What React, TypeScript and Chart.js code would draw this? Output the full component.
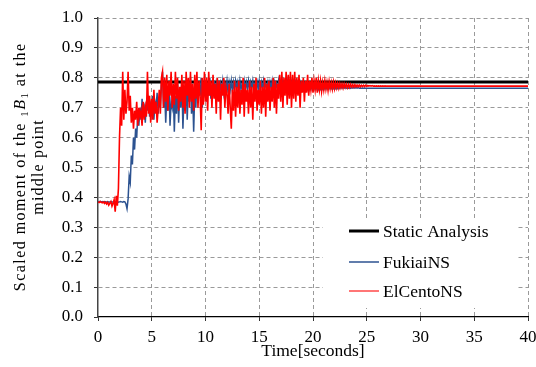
import { useEffect, useRef } from "react";
import { Chart, registerables } from "chart.js";

Chart.register(...registerables);

// ---------- data ----------
const TIME_STEP = 0.1; // seconds between samples
const END_TIME = 40;
const STATIC_VALUE = 0.786;

const X_MIN = 0;
const X_MAX = 40;
const X_STEP = 5;
const Y_MIN = 0;
const Y_MAX = 1;
const Y_STEP = 0.1;

const seriesNames = ["Static Analysis", "FukiaiNS", "ElCentoNS"];

// ElCentoNS, sampled every 0.1 s from t = 0 to 26.8 s
const elCentoNS = [
  0.385, 0.383, 0.386, 0.384, 0.382, 0.385, 0.38, 0.384, 0.378, 0.383,
  0.374, 0.38, 0.386, 0.371, 0.38, 0.392, 0.352, 0.405, 0.372, 0.43,
  0.6, 0.7, 0.64, 0.82, 0.66, 0.76, 0.68, 0.72, 0.82, 0.69,
  0.74, 0.65, 0.7, 0.63, 0.69, 0.66, 0.72, 0.64, 0.7, 0.67,
  0.69, 0.64, 0.72, 0.66, 0.7, 0.67, 0.82, 0.68, 0.74, 0.65,
  0.73, 0.66, 0.76, 0.68, 0.72, 0.65, 0.7, 0.76, 0.68, 0.8,
  0.82, 0.7, 0.8, 0.72, 0.81, 0.69, 0.79, 0.74, 0.82, 0.7,
  0.78, 0.71, 0.82, 0.73, 0.8, 0.69, 0.77, 0.72, 0.81, 0.7,
  0.79, 0.68, 0.82, 0.74, 0.8, 0.7, 0.82, 0.72, 0.78, 0.69,
  0.81, 0.73, 0.82, 0.7, 0.79, 0.74, 0.625, 0.8, 0.71, 0.82,
  0.72, 0.8, 0.69, 0.82, 0.74, 0.79, 0.7, 0.81, 0.73, 0.78,
  0.68, 0.8, 0.72, 0.79, 0.66, 0.78, 0.74, 0.8, 0.7, 0.77,
  0.75, 0.68, 0.78, 0.7, 0.63, 0.76, 0.69, 0.79, 0.67, 0.77,
  0.7, 0.79, 0.68, 0.76, 0.71, 0.8, 0.67, 0.78, 0.72, 0.76,
  0.68, 0.79, 0.7, 0.77, 0.66, 0.78, 0.72, 0.8, 0.69, 0.76,
  0.71, 0.79, 0.68, 0.77, 0.7, 0.8, 0.67, 0.78, 0.72, 0.79,
  0.69, 0.77, 0.72, 0.8, 0.7, 0.79, 0.68, 0.78, 0.73, 0.81,
  0.72, 0.82, 0.7, 0.8, 0.74, 0.82, 0.71, 0.81, 0.73, 0.82,
  0.7, 0.81, 0.73, 0.82, 0.72, 0.8, 0.74, 0.81, 0.7, 0.79,
  0.75, 0.8, 0.72, 0.79, 0.75, 0.81, 0.74, 0.79, 0.76, 0.8,
  0.75, 0.79, 0.76, 0.8, 0.75, 0.79, 0.76, 0.79, 0.755, 0.785,
  0.76, 0.79, 0.762, 0.785, 0.758, 0.788, 0.764, 0.784, 0.762, 0.786,
  0.764, 0.783, 0.766, 0.782, 0.765, 0.781, 0.767, 0.78, 0.766, 0.78,
  0.768, 0.779, 0.767, 0.778, 0.768, 0.778, 0.769, 0.777, 0.769, 0.777,
  0.77, 0.776, 0.77, 0.776, 0.77, 0.775, 0.771, 0.775, 0.771, 0.775,
  0.771, 0.774, 0.772, 0.774, 0.772, 0.774, 0.772, 0.773, 0.772, 0.773,
  0.772, 0.773, 0.772, 0.773, 0.772, 0.773, 0.772, 0.773, 0.772,
];
const elCentoTail = 0.772; // value held until END_TIME

// FukiaiNS, sampled every 0.1 s from t = 0 to 24.9 s
const fukiaiNS = [
  0.386, 0.385, 0.387, 0.385, 0.386, 0.384, 0.386, 0.385, 0.385, 0.386,
  0.384, 0.385, 0.386, 0.385, 0.384, 0.386, 0.385, 0.385, 0.386, 0.384,
  0.385, 0.386, 0.385, 0.384, 0.386, 0.385, 0.378, 0.362, 0.395, 0.47,
  0.45, 0.54, 0.51, 0.6, 0.56, 0.63, 0.6, 0.68, 0.64, 0.7,
  0.66, 0.73, 0.68, 0.7, 0.65, 0.72, 0.69, 0.74, 0.67, 0.71,
  0.69, 0.74, 0.66, 0.72, 0.7, 0.75, 0.68, 0.73, 0.7, 0.78,
  0.82, 0.7, 0.76, 0.65, 0.74, 0.69, 0.78, 0.64, 0.72, 0.7,
  0.76, 0.62, 0.74, 0.68, 0.78, 0.65, 0.75, 0.7, 0.79, 0.63,
  0.74, 0.69, 0.78, 0.66, 0.77, 0.72, 0.8, 0.68, 0.76, 0.62,
  0.75, 0.7, 0.79, 0.72, 0.78, 0.74, 0.8, 0.7, 0.77, 0.75,
  0.79, 0.72, 0.78, 0.74, 0.8, 0.73, 0.77, 0.75, 0.79, 0.74,
  0.78, 0.75, 0.79, 0.74, 0.78, 0.76, 0.79, 0.75, 0.78, 0.76,
  0.79, 0.75, 0.785, 0.76, 0.79, 0.755, 0.785, 0.76, 0.79, 0.765,
  0.785, 0.755, 0.79, 0.76, 0.78, 0.765, 0.79, 0.76, 0.785, 0.765,
  0.79, 0.76, 0.785, 0.765, 0.79, 0.76, 0.78, 0.765, 0.785, 0.76,
  0.79, 0.765, 0.785, 0.76, 0.79, 0.765, 0.78, 0.765, 0.785, 0.76,
  0.785, 0.765, 0.79, 0.76, 0.785, 0.765, 0.78, 0.76, 0.79, 0.765,
  0.785, 0.76, 0.79, 0.765, 0.785, 0.76, 0.79, 0.765, 0.78, 0.76,
  0.785, 0.762, 0.782, 0.76, 0.784, 0.763, 0.78, 0.761, 0.782, 0.762,
  0.78, 0.762, 0.779, 0.761, 0.778, 0.763, 0.777, 0.762, 0.776, 0.763,
  0.776, 0.762, 0.775, 0.763, 0.774, 0.762, 0.774, 0.763, 0.773, 0.763,
  0.773, 0.763, 0.772, 0.763, 0.772, 0.764, 0.771, 0.764, 0.771, 0.764,
  0.77, 0.764, 0.77, 0.764, 0.769, 0.764, 0.769, 0.765, 0.769, 0.765,
  0.768, 0.765, 0.768, 0.765, 0.768, 0.765, 0.767, 0.765, 0.767, 0.765,
  0.767, 0.765, 0.767, 0.765, 0.766, 0.765, 0.766, 0.765, 0.766, 0.765,
];
const fukiaiTail = 0.765;

// ---------- styling ----------
const FONT = "'Liberation Serif', 'Times New Roman', serif";
const COLOR_STATIC = "#000000";
const COLOR_FUKIAI = "#2c5290";
const COLOR_ELCENTO = "#ff0000";
const GRID_COLOR = "#9a9a9a";

function toPoints(values: number[], tail: number) {
  const pts = values.map((v, i) => ({ x: Math.round(i * TIME_STEP * 10) / 10, y: v }));
  pts.push({ x: END_TIME, y: tail });
  return pts;
}

type Run = { text: string; size: number; italic?: boolean; dy?: number };

function drawRotatedRuns(
  ctx: CanvasRenderingContext2D,
  runs: Run[],
  baselineX: number,
  cy: number,
  spacing: number
) {
  const fontOf = (r: Run) => `${r.italic ? "italic " : ""}${r.size}px ${FONT}`;
  let total = 0;
  const chars: { ch: string; run: Run; w: number }[] = [];
  for (const r of runs) {
    ctx.font = fontOf(r);
    for (const ch of r.text) {
      const w = ctx.measureText(ch).width + spacing;
      chars.push({ ch, run: r, w });
      total += w;
    }
  }
  total -= spacing;
  ctx.save();
  ctx.translate(baselineX, cy);
  ctx.rotate(-Math.PI / 2);
  ctx.textBaseline = "alphabetic";
  ctx.textAlign = "left";
  let x = -total / 2;
  for (const c of chars) {
    ctx.font = fontOf(c.run);
    ctx.fillText(c.ch, x, c.run.dy || 0);
    x += c.w;
  }
  ctx.restore();
}

const yTitlePlugin = {
  id: "yTitleRich",
  afterDraw(chart: any) {
    const ctx: CanvasRenderingContext2D = chart.ctx;
    const { top, bottom } = chart.chartArea;
    const cy = (top + bottom) / 2;
    ctx.save();
    ctx.fillStyle = "#000";
    drawRotatedRuns(
      ctx,
      [
        { text: "Scaled moment of the ", size: 16 },
        { text: "1", size: 11, dy: 3 },
        { text: "B", size: 16, italic: true },
        { text: "1", size: 11, dy: 3 },
        { text: " at the", size: 16 },
      ],
      24.5,
      cy,
      1.45
    );
    drawRotatedRuns(ctx, [{ text: "middle point", size: 16 }], 42.5, cy, 1.2);
    ctx.restore();
  },
};

const legendPlugin = {
  id: "insideLegend",
  afterDraw(chart: any) {
    const ctx: CanvasRenderingContext2D = chart.ctx;
    const area = chart.chartArea;
    const left = area.right - 205;
    const right = area.right - 11;
    const top = area.top + 200;
    const bottom = area.bottom - 9;
    ctx.save();
    ctx.fillStyle = "#ffffff";
    ctx.fillRect(left, top, right - left, bottom - top);
    const items = [
      { label: seriesNames[0], color: COLOR_STATIC, width: 3 },
      { label: seriesNames[1], color: COLOR_FUKIAI, width: 1.5 },
      { label: seriesNames[2], color: "#ff4848", width: 1.5 },
    ];
    const rowY = [top + 13, top + 44, top + 73];
    ctx.font = `17.5px ${FONT}`;
    ctx.textBaseline = "middle";
    ctx.textAlign = "left";
    items.forEach((it, i) => {
      const y = rowY[i];
      ctx.strokeStyle = it.color;
      ctx.lineWidth = it.width;
      ctx.beginPath();
      ctx.moveTo(left + 26, y);
      ctx.lineTo(left + 56, y);
      ctx.stroke();
      ctx.fillStyle = "#000";
      ctx.fillText(it.label, left + 60, y + 1);
    });
    ctx.restore();
  },
};

export default function App() {
  const ref = useRef<HTMLCanvasElement | null>(null);

  useEffect(() => {
    document.body.style.margin = "0";
    const canvas = ref.current;
    if (!canvas) return;
    const gridColor = (c: any) => (c.tick && c.tick.value === 0 ? "rgba(0,0,0,0)" : GRID_COLOR);
    const chart = new Chart(canvas, {
      type: "line",
      data: {
        datasets: [
          {
            label: seriesNames[2],
            data: toPoints(elCentoNS, elCentoTail),
            borderColor: COLOR_ELCENTO,
            borderWidth: 1.6,
            pointRadius: 0,
            tension: 0,
          },
          {
            label: seriesNames[1],
            data: toPoints(fukiaiNS, fukiaiTail),
            borderColor: COLOR_FUKIAI,
            borderWidth: 1.5,
            pointRadius: 0,
            tension: 0,
          },
          {
            label: seriesNames[0],
            data: [
              { x: X_MIN, y: STATIC_VALUE },
              { x: END_TIME, y: STATIC_VALUE },
            ],
            borderColor: COLOR_STATIC,
            borderWidth: 3,
            pointRadius: 0,
            tension: 0,
          },
        ],
      },
      options: {
        responsive: false,
        animation: false,
        parsing: false as any,
        layout: { padding: { left: 0, right: 8, top: 18, bottom: 0 } },
        plugins: {
          legend: { display: false },
          tooltip: { enabled: false },
        },
        scales: {
          x: {
            type: "linear",
            min: X_MIN,
            max: X_MAX,
            afterFit: (s: any) => {
              s.height = 50;
              s.paddingLeft = 0;
              s.paddingRight = 0;
            },
            ticks: {
              stepSize: X_STEP,
              color: "#000",
              padding: 6,
              maxRotation: 0,
              font: { family: FONT, size: 17 },
            },
            grid: {
              color: gridColor,
              lineWidth: 1,
              tickLength: 4,
              tickColor: "#333",
            },
            border: { display: true, color: "#000", width: 1.2, dash: [4, 3] },
            title: {
              display: true,
              text: "Time[seconds]",
              color: "#000",
              font: { family: FONT, size: 17.5 },
              padding: { top: 0, bottom: 5 },
            },
          },
          y: {
            type: "linear",
            min: Y_MIN,
            max: Y_MAX,
            afterFit: (s: any) => {
              s.width = 98;
              s.paddingTop = 0;
              s.paddingBottom = 0;
            },
            ticks: {
              stepSize: Y_STEP,
              color: "#000",
              padding: 11,
              font: { family: FONT, size: 17 },
              callback: (v: any) => Number(v).toFixed(1),
            },
            grid: {
              color: gridColor,
              lineWidth: 1,
              tickLength: 4,
              tickColor: "#333",
            },
            border: { display: true, color: "#444", width: 1.5, dash: [4, 3] },
          },
        },
      },
      plugins: [yTitlePlugin, legendPlugin],
    });
    return () => chart.destroy();
  }, []);

  return <canvas ref={ref} width={536} height={367} style={{ display: "block" }} />;
}
